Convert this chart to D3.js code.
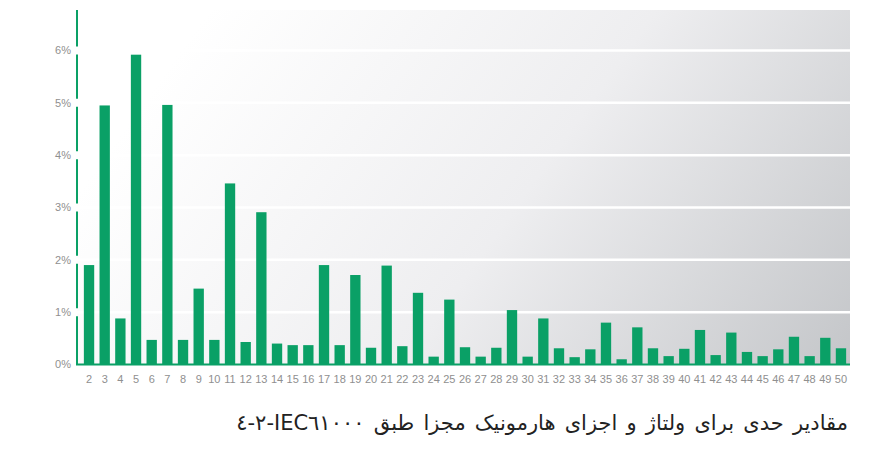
<!DOCTYPE html>
<html>
<head>
  <meta charset="utf-8">
  <style>
    body { margin: 0; background: #fff; }
    svg text.tick { font: 11px "Liberation Sans", Arial, sans-serif; fill: #8f8f8f; }
    svg text.caption { font: 21px "DejaVu Sans", sans-serif; fill: #222; word-spacing: 2.5px; }
  </style>
</head>
<body>
<script src="https://d3js.org/d3.v7.min.js"></script>
<script>
  // harmonic orders and their limit values (% of fundamental)
  var harmonics = d3.range(2, 51);
  var limits = [1.9, 4.95, 0.88, 5.92, 0.47, 4.96, 0.47, 1.45, 0.47, 3.46,
                0.43, 2.91, 0.40, 0.37, 0.37, 1.90, 0.37, 1.71, 0.32, 1.89,
                0.35, 1.37, 0.15, 1.24, 0.33, 0.15, 0.32, 1.04, 0.15, 0.88,
                0.31, 0.14, 0.29, 0.80, 0.10, 0.71, 0.31, 0.16, 0.30, 0.66,
                0.18, 0.61, 0.24, 0.16, 0.29, 0.53, 0.16, 0.51, 0.31];
  var yTicks = [0, 1, 2, 3, 4, 5, 6];
  var caption = "مقادیر حدی برای ولتاژ و اجزای هارمونیک مجزا طبق IEC٦١٠٠٠-٢-٤";

  var W = 888, H = 471;
  var plot = { left: 77, right: 850, top: 10, bottom: 364.5 };
  var green = "#0aa066";

  var svg = d3.select("body").append("svg")
      .attr("width", W)
      .attr("height", H);

  // background gradient, white top-left to grey bottom-right
  var grad = svg.append("defs").append("linearGradient")
      .attr("id", "bg")
      .attr("gradientUnits", "userSpaceOnUse")
      .attr("x1", 260).attr("y1", -60)
      .attr("x2", 850).attr("y2", 364);
  grad.append("stop").attr("offset", 0).attr("stop-color", "#ffffff");
  grad.append("stop").attr("offset", 0.5).attr("stop-color", "#eeeef0");
  grad.append("stop").attr("offset", 1).attr("stop-color", "#c4c6c9");

  var x = d3.scaleBand()
      .domain(harmonics)
      .range([81.2, 848.8])
      .paddingInner(0.34)
      .paddingOuter(0.17);

  var y = d3.scaleLinear()
      .domain([0, 6])
      .range([plot.bottom, 50.5]);

  svg.append("rect")
      .attr("x", plot.left)
      .attr("y", plot.top)
      .attr("width", plot.right - plot.left)
      .attr("height", plot.bottom - plot.top)
      .attr("fill", "url(#bg)");

  // white grid lines
  svg.selectAll("line.grid")
    .data(yTicks.filter(function (d) { return d > 0; }))
    .enter().append("line")
      .attr("class", "grid")
      .attr("x1", plot.left)
      .attr("x2", plot.right)
      .attr("y1", function (d) { return y(d); })
      .attr("y2", function (d) { return y(d); })
      .attr("stroke", "#fff")
      .attr("stroke-width", 2.5);

  // bars
  svg.selectAll("rect.bar")
    .data(harmonics)
    .enter().append("rect")
      .attr("class", "bar")
      .attr("x", function (d) { return x(d); })
      .attr("width", x.bandwidth())
      .attr("y", function (d, i) { return y(limits[i]); })
      .attr("height", function (d, i) { return y(0) - y(limits[i]); })
      .attr("fill", green);

  // baseline
  svg.append("line")
      .attr("x1", plot.left - 1)
      .attr("x2", plot.right)
      .attr("y1", y(0))
      .attr("y2", y(0))
      .attr("stroke", green)
      .attr("stroke-width", 2);

  // y axis line, broken at each tick label
  var segs = [];
  var stops = [plot.top].concat(yTicks.slice().reverse().map(function (d) { return y(d); }));
  for (var i = 0; i < stops.length - 1; i++) {
    var a = stops[i] + (i === 0 ? 0 : 4);
    var b = stops[i + 1] - (i === stops.length - 2 ? 0 : 4);
    segs.push([a, b]);
  }
  svg.selectAll("line.yaxis")
    .data(segs)
    .enter().append("line")
      .attr("class", "yaxis")
      .attr("x1", plot.left).attr("x2", plot.left)
      .attr("y1", function (d) { return d[0]; })
      .attr("y2", function (d) { return d[1]; })
      .attr("stroke", green)
      .attr("stroke-width", 2);

  svg.selectAll("text.ylab")
    .data(yTicks)
    .enter().append("text")
      .attr("class", "tick ylab")
      .attr("x", 71)
      .attr("y", function (d) { return y(d); })
      .attr("dy", "0.35em")
      .attr("text-anchor", "end")
      .text(function (d) { return d + "%"; });

  svg.selectAll("text.xlab")
    .data(harmonics)
    .enter().append("text")
      .attr("class", "tick xlab")
      .attr("x", function (d) { return x(d) + x.bandwidth() / 2; })
      .attr("y", 383)
      .attr("text-anchor", "middle")
      .text(function (d) { return d; });

  svg.append("text")
      .attr("class", "caption")
      .attr("x", 848)
      .attr("y", 430)
      .attr("direction", "rtl")
      .attr("text-anchor", "start")
      .text(caption);
</script>
</body>
</html>
